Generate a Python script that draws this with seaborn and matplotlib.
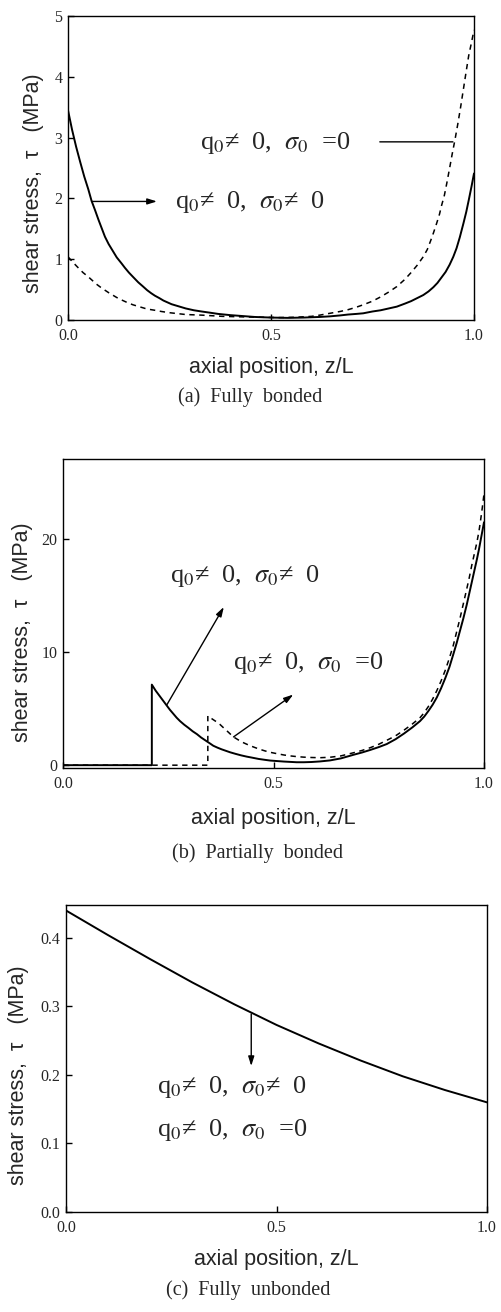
import numpy as np
import pandas as pd
import seaborn as sns
import matplotlib.pyplot as plt

# ---------------- data ----------------
# (a) fully bonded
xa_solid = [0, 0.01, 0.02, 0.03, 0.04, 0.05, 0.058, 0.067, 0.075, 0.083, 0.091, 0.1, 0.11, 0.12,
            0.132, 0.14, 0.15, 0.16, 0.173, 0.185, 0.195, 0.205, 0.214, 0.225, 0.235, 0.245,
            0.255, 0.27, 0.29, 0.31, 0.329, 0.35, 0.37, 0.4, 0.43, 0.46, 0.5, 0.54, 0.58, 0.62,
            0.645, 0.67, 0.69, 0.71, 0.727, 0.75, 0.77, 0.79, 0.81, 0.83, 0.845, 0.86, 0.875,
            0.888, 0.9, 0.91, 0.92, 0.93, 0.94, 0.949, 0.957, 0.965, 0.974, 0.981, 0.987, 0.994, 1.0]
ya_solid = [3.45, 3.13, 2.85, 2.6, 2.36, 2.15, 1.96, 1.8, 1.65, 1.51, 1.37, 1.25, 1.14, 1.03,
            0.93, 0.86, 0.78, 0.71, 0.62, 0.55, 0.49, 0.44, 0.40, 0.36, 0.32, 0.29,
            0.26, 0.23, 0.19, 0.16, 0.14, 0.12, 0.10, 0.08, 0.065, 0.05, 0.04, 0.035, 0.04, 0.05,
            0.06, 0.075, 0.09, 0.10, 0.11, 0.14, 0.16, 0.19, 0.22, 0.27, 0.31, 0.36, 0.41,
            0.47, 0.54, 0.61, 0.70, 0.79, 0.91, 1.04, 1.18, 1.36, 1.59, 1.78, 1.97, 2.2, 2.41]
xa_dash = [0, 0.012, 0.025, 0.037, 0.05, 0.06, 0.07, 0.08, 0.091, 0.1, 0.11, 0.12, 0.132, 0.145,
           0.16, 0.175, 0.19, 0.2, 0.214, 0.23, 0.25, 0.27, 0.29, 0.31, 0.329, 0.355, 0.38, 0.41,
           0.44, 0.48, 0.52, 0.56, 0.6, 0.62, 0.645, 0.67, 0.69, 0.71, 0.727, 0.75, 0.77, 0.79,
           0.81, 0.83, 0.845, 0.86, 0.875, 0.885, 0.893, 0.9, 0.908, 0.915, 0.92, 0.927, 0.933,
           0.94, 0.946, 0.953, 0.96, 0.967, 0.974, 0.981, 0.987, 0.994, 1.0]
ya_dash = [1.04, 0.95, 0.86, 0.78, 0.71, 0.65, 0.59, 0.54, 0.49, 0.45, 0.41, 0.37, 0.33, 0.29,
           0.25, 0.22, 0.19, 0.175, 0.16, 0.14, 0.12, 0.105, 0.09, 0.085, 0.08, 0.07, 0.06, 0.055,
           0.05, 0.045, 0.04, 0.045, 0.06, 0.08, 0.11, 0.14, 0.17, 0.21, 0.25, 0.31, 0.38, 0.46,
           0.55, 0.67, 0.78, 0.9, 1.04, 1.16, 1.3, 1.43, 1.59, 1.74, 1.88, 2.05, 2.25,
           2.5, 2.72, 2.96, 3.22, 3.5, 3.8, 4.1, 4.35, 4.57, 4.77]

# (b) partially bonded
xb_solid = [0, 0.211, 0.211, 0.22, 0.23, 0.238, 0.246, 0.254, 0.262, 0.27, 0.278, 0.288, 0.298,
            0.308, 0.318, 0.328, 0.338, 0.348, 0.357, 0.367, 0.377, 0.387, 0.397, 0.41, 0.423,
            0.436, 0.45, 0.465, 0.48, 0.492, 0.51, 0.525, 0.54, 0.555, 0.572, 0.59, 0.61, 0.634,
            0.66, 0.69, 0.71, 0.73, 0.75, 0.769, 0.79, 0.81, 0.83, 0.848, 0.858, 0.868, 0.878,
            0.888, 0.898, 0.908, 0.918, 0.927, 0.935, 0.943, 0.951, 0.959, 0.965, 0.971, 0.977,
            0.983, 0.988, 0.992, 0.996, 1.0]
yb_solid = [0, 0, 7.13, 6.6, 6.1, 5.7, 5.3, 4.9, 4.55, 4.2, 3.9, 3.58, 3.3,
            3.0, 2.75, 2.45, 2.2, 1.95, 1.72, 1.55, 1.4, 1.27, 1.14, 1.0, 0.87,
            0.76, 0.66, 0.55, 0.47, 0.41, 0.36, 0.32, 0.29, 0.26, 0.26, 0.28, 0.33, 0.42,
            0.6, 0.92, 1.12, 1.35, 1.6, 1.87, 2.3, 2.8, 3.35, 3.9, 4.3, 4.8, 5.35,
            6.0, 6.8, 7.7, 8.7, 9.8, 10.8, 11.9, 13.0, 14.2, 15.2, 16.2, 17.2,
            18.2, 19.1, 19.9, 20.7, 21.5]
xb_dash = [0, 0.344, 0.344, 0.352, 0.36, 0.367, 0.373, 0.381, 0.389, 0.397, 0.405, 0.415, 0.425,
           0.435, 0.444, 0.456, 0.468, 0.48, 0.492, 0.508, 0.525, 0.54, 0.555, 0.572, 0.59, 0.61,
           0.634, 0.66, 0.69, 0.71, 0.73, 0.75, 0.769, 0.79, 0.81, 0.83, 0.848, 0.858, 0.868,
           0.878, 0.888, 0.898, 0.908, 0.918, 0.927, 0.935, 0.943, 0.951, 0.959, 0.965, 0.971,
           0.977, 0.983, 0.988, 0.992, 0.996, 1.0]
yb_dash = [0, 0, 4.36, 4.15, 3.95, 3.78, 3.6, 3.32, 3.05, 2.77, 2.5, 2.27, 2.05,
           1.88, 1.73, 1.56, 1.4, 1.26, 1.14, 1.02, 0.9, 0.82, 0.76, 0.71, 0.68, 0.66,
           0.7, 0.82, 1.1, 1.3, 1.55, 1.85, 2.2, 2.6, 3.1, 3.65, 4.2, 4.65, 5.2,
           5.85, 6.6, 7.45, 8.4, 9.5, 10.6, 11.8, 13.0, 14.3, 15.6, 16.6, 17.7,
           18.7, 19.7, 20.7, 21.7, 22.8, 24.0]

# (c) fully unbonded
xc = [0, 0.05, 0.1, 0.15, 0.2, 0.25, 0.3, 0.35, 0.4, 0.45, 0.5, 0.55, 0.6, 0.65, 0.7, 0.75,
      0.8, 0.85, 0.9, 0.95, 1.0]
yc = [0.44, 0.422, 0.404, 0.3865, 0.369, 0.352, 0.335, 0.319, 0.303, 0.288, 0.273, 0.2595,
      0.246, 0.2335, 0.221, 0.2095, 0.198, 0.188, 0.178, 0.169, 0.16]

x_ticks = [0.0, 0.5, 1.0]
x_ticklabels = ["0.0", "0.5", "1.0"]
ya_ticks = [0, 1, 2, 3, 4, 5]
ya_ticklabels = ["0", "1", "2", "3", "4", "5"]
yb_ticks = [0, 10, 20]
yb_ticklabels = ["0", "10", "20"]
yc_ticks = [0.0, 0.1, 0.2, 0.3, 0.4]
yc_ticklabels = ["0.0", "0.1", "0.2", "0.3", "0.4"]

xlabel = "axial position, z/L"
ylabel = "shear stress,  τ   (MPa)"
lab_ne = r"q$_0$≠  0,  $\sigma_0$≠  0"
lab_eq = r"q$_0$≠  0,  $\sigma_0$  =0"
captions = ["(a)  Fully  bonded", "(b)  Partially  bonded", "(c)  Fully  unbonded"]

# ---------------- style ----------------
sns.set_style("ticks")
plt.rcParams['font.family'] = ['Liberation Sans', 'DejaVu Sans']
plt.rcParams['mathtext.fontset'] = 'stix'

W, H = 501, 1312
fig = plt.figure(figsize=(W / 100, H / 100), dpi=100)


def px_axes(l, t, r, b):
    return fig.add_axes([l / W, 1 - b / H, (r - l) / W, (b - t) / H])


axa = px_axes(68, 16, 474, 320)
axb = px_axes(63, 459, 484, 768)
axc = px_axes(66, 905, 487, 1212)

serif = ['Liberation Serif', 'DejaVu Serif']
ann_font = dict(family=serif, fontsize=19)


def style(ax, yt, ytl, ylim, ylab_x, ylab_y, xlab_y):
    ax.set_xlim(0, 1.0)
    ax.set_ylim(*ylim)
    ax.set_xticks(x_ticks)
    ax.set_xticklabels(x_ticklabels, fontfamily=serif, fontsize=11.5)
    ax.set_yticks(yt)
    ax.set_yticklabels(ytl, fontfamily=serif, fontsize=11.5)
    ax.tick_params(direction='in', length=4, width=1, color='black')
    ax.tick_params(axis='x', pad=6)
    ax.tick_params(axis='y', pad=4)
    for s in ax.spines.values():
        s.set_visible(True)
        s.set_linewidth(1.0)
        s.set_color('black')
    ax.set_xlabel(xlabel, fontsize=15.5)
    ax.set_ylabel(ylabel, fontsize=15.5)
    ax.xaxis.label.set_va('center')
    ax.yaxis.label.set_va('center')
    ax.xaxis.set_label_coords(0.5, xlab_y)
    ax.yaxis.set_label_coords(ylab_x, ylab_y)


def draw(ax, x, y, dashed=False):
    sns.lineplot(x=x, y=y, ax=ax, color='black', linewidth=1.4 if not dashed else 1.1,
                 sort=False, estimator=None)
    if dashed:
        ax.lines[-1].set_dashes([3.5, 3])


def arrow(ax, start, end, head=True):
    style_ = '-|>,head_length=0.7,head_width=0.22' if head else '-'
    ax.annotate('', xy=end, xytext=start,
                arrowprops=dict(arrowstyle=style_, color='black', lw=1.0,
                                mutation_scale=8, shrinkA=0, shrinkB=0))


# (a)
draw(axa, xa_solid, ya_solid)
draw(axa, xa_dash, ya_dash, dashed=True)
style(axa, ya_ticks, ya_ticklabels, (0, 5), -0.086, 0.45, -0.155)
axa.text(0.325, 2.91, lab_eq, va='center', ha='left', **ann_font)
axa.text(0.264, 1.94, lab_ne, va='center', ha='left', **ann_font)
arrow(axa, (0.948, 2.93), (0.768, 2.93), head=False)
arrow(axa, (0.059, 1.95), (0.219, 1.95))

# (b)
draw(axb, xb_solid, yb_solid)
draw(axb, xb_dash, yb_dash, dashed=True)
style(axb, yb_ticks, yb_ticklabels, (-0.25, 27.1), -0.097, 0.44, -0.162)
axb.text(0.254, 16.7, lab_ne, va='center', ha='left', **ann_font)
axb.text(0.404, 9.0, lab_eq, va='center', ha='left', **ann_font)
arrow(axb, (0.246, 5.3), (0.382, 14.0))
arrow(axb, (0.405, 2.5), (0.547, 6.25))

# (c)
draw(axc, xc, yc)
style(axc, yc_ticks, yc_ticklabels, (0, 0.448), -0.114, 0.446, -0.156)
axc.text(0.216, 0.183, lab_ne, va='center', ha='left', **ann_font)
axc.text(0.216, 0.12, lab_eq, va='center', ha='left', **ann_font)
arrow(axc, (0.44, 0.289), (0.44, 0.213))

# captions
for (cx, cy), txt in zip([(250, 397), (257, 853), (248, 1290)], captions):
    fig.text(cx / W, 1 - cy / H, txt, ha='center', va='center', family=serif, fontsize=14.5)

fig.savefig("out.png", dpi=100)
